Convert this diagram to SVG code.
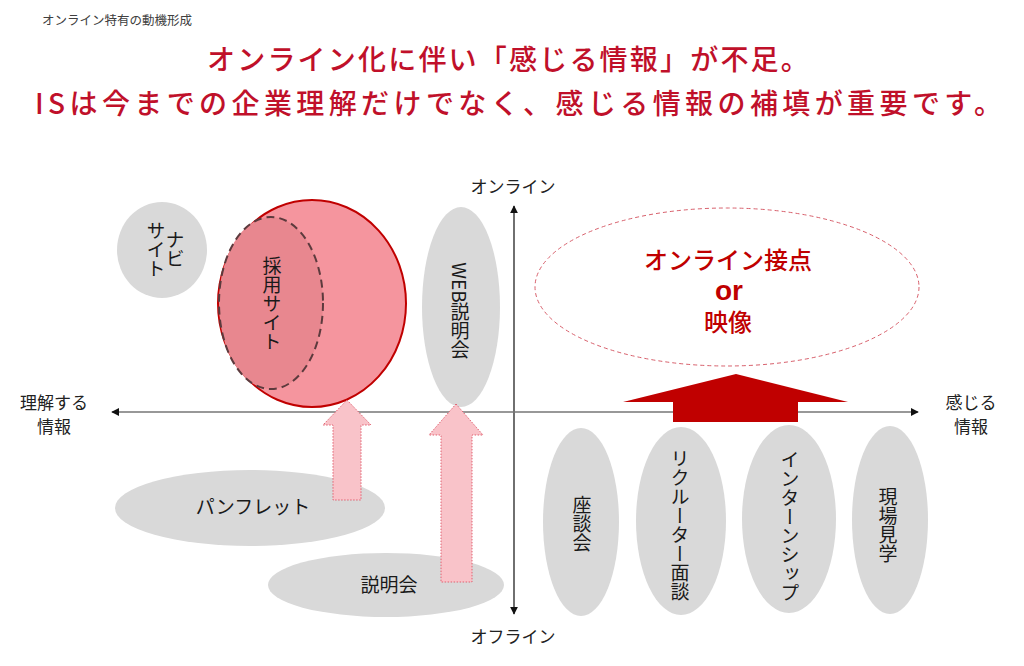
<svg xmlns="http://www.w3.org/2000/svg" width="1024" height="666" viewBox="0 0 1024 666">
<style>
  text { font-family: "Noto Sans CJK JP", "Noto Sans", sans-serif; }
  .title { fill: #C0102A; font-size: 28px; font-weight: 500; }
  .lbl { fill: #222; font-size: 17px; text-anchor: middle; }
  .node { fill: #1a1a1a; font-size: 19px; text-anchor: middle; }
  .vt { writing-mode: vertical-rl; }
  .gray { fill: #D9D9D9; }
  .pink-arrow { fill: #F9C3C9; stroke: #E06070; stroke-width: 1; stroke-dasharray: 1.5 1.5; }
</style>
<defs>
  <marker id="ah" viewBox="0 0 10 10" refX="9" refY="5" markerWidth="8" markerHeight="8" markerUnits="userSpaceOnUse" orient="auto-start-reverse">
    <path d="M0,0 L10,5 L0,10 z" fill="#111"/>
  </marker>
</defs>
<rect width="1024" height="666" fill="#fff"/>

<text x="42" y="25" font-size="12.5" fill="#404040">オンライン特有の動機形成</text>
<text class="title" x="207" y="70" letter-spacing="2.2">オンライン化に伴い「感じる情報」が不足。</text>
<text class="title" x="35" y="114" letter-spacing="4.4">ISは今までの企業理解だけでなく、感じる情報の補填が重要です。</text>

<g id="navi-site">
  <ellipse class="gray" cx="162" cy="250" rx="45" ry="48"/>
  <text class="node vt" x="175" y="249" font-size="15">ナビ</text>
  <text class="node vt" x="156" y="250" font-size="15">サイト</text>
</g>

<g id="recruit-site">
  <ellipse cx="312" cy="303.5" rx="94" ry="103.5" fill="#F5959E" stroke="#C00000" stroke-width="2"/>
  <ellipse cx="271" cy="303" rx="52" ry="86" fill="#E8878F" stroke="#5C3A3D" stroke-width="2" stroke-dasharray="8 5"/>
  <text class="node vt" x="272" y="304">採用サイト</text>
</g>

<g id="web-setsumeikai">
  <ellipse class="gray" cx="461" cy="307" rx="39" ry="100"/>
  <text class="node vt" x="460" y="311">WEB説明会</text>
</g>

<g id="online-contact">
  <ellipse cx="727" cy="287" rx="192" ry="79" fill="none" stroke="#D8606C" stroke-width="1" stroke-dasharray="4 3"/>
  <text x="728" y="269" font-size="24" font-weight="500" fill="#C00000" text-anchor="middle">オンライン接点</text>
  <text x="729" y="300" font-size="28" font-weight="bold" fill="#C00000" text-anchor="middle" style="font-family:'Liberation Sans',sans-serif">or</text>
  <text x="728" y="331" font-size="24" font-weight="500" fill="#C00000" text-anchor="middle">映像</text>
</g>

<g id="pamphlet">
  <ellipse class="gray" cx="250" cy="508" rx="135" ry="38"/>
  <text class="node" x="253" y="514">パンフレット</text>
</g>

<g id="setsumeikai">
  <ellipse class="gray" cx="386" cy="585" rx="118" ry="32"/>
  <text class="node" x="389" y="592">説明会</text>
</g>

<g id="zadankai">
  <ellipse class="gray" cx="581" cy="522" rx="38" ry="94"/>
  <text class="node vt" x="582" y="524">座談会</text>
</g>

<g id="recruiter-mendan">
  <ellipse class="gray" cx="681" cy="521" rx="45" ry="94"/>
  <text class="node vt" x="680" y="525">リクルーター面談</text>
</g>

<g id="internship">
  <ellipse class="gray" cx="789" cy="519" rx="47" ry="94"/>
  <text class="node vt" x="790" y="526">インターンシップ</text>
</g>

<g id="genba-kengaku">
  <ellipse class="gray" cx="890" cy="520" rx="38" ry="94"/>
  <text class="node vt" x="888" y="525">現場見学</text>
</g>

<g id="connectors">
  <line x1="514" y1="206" x2="514" y2="614" stroke="#222" stroke-width="1.3" marker-start="url(#ah)" marker-end="url(#ah)"/>
  <line x1="112" y1="412" x2="918" y2="412" stroke="#767676" stroke-width="1.6" marker-start="url(#ah)" marker-end="url(#ah)"/>
  <path d="M736,374 L848,402 L798,402 L798,422 L673,422 L673,402 L623,402 Z" fill="#C00000"/>
  <path class="pink-arrow" d="M347,400 L371,425 L361,425 L361,500 L333,500 L333,425 L323,425 Z"/>
  <path class="pink-arrow" d="M456,404 L483,435 L472,435 L472,582 L441,582 L441,435 L429,435 Z"/>
</g>

<g id="axis-labels">
  <text class="lbl" x="513" y="193">オンライン</text>
  <text class="lbl" x="513" y="643">オフライン</text>
  <text class="lbl" x="54" y="409">理解する</text>
  <text class="lbl" x="54" y="433">情報</text>
  <text class="lbl" x="971" y="409">感じる</text>
  <text class="lbl" x="971" y="433">情報</text>
</g>
</svg>
